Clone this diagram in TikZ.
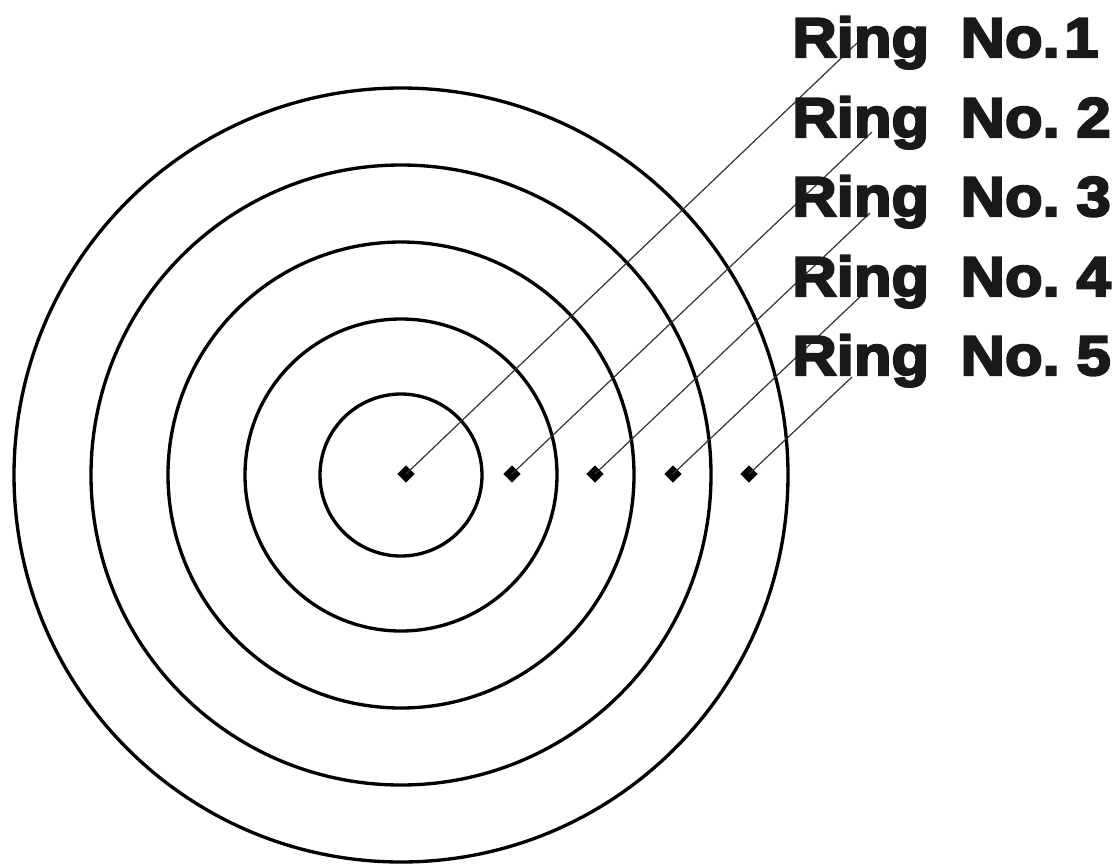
\documentclass[tikz,border=0pt]{standalone}
\usepackage{fontspec}
\newfontfamily\labfont[FakeBold=4,FakeStretch=1.1]{Liberation Sans Bold}
\usetikzlibrary{shapes.geometric}
\begin{document}
\begin{tikzpicture}[x=0.75pt,y=-0.75pt,
  ring/.style={draw=black,line width=2.5pt},
  leader/.style={draw=black!80,line width=0.9pt},
  dmark/.style={shape=diamond,fill=black,inner sep=0pt,minimum size=13pt},
  lab/.style={anchor=base west,inner sep=0pt,font=\labfont\fontsize{42}{42}\selectfont,text=black!90}]
\useasboundingbox (0,0) rectangle (1118,865);
\coordinate (c) at (401,475);
\foreach \r in {81,156,233,310,387}{\draw[ring] (c) circle[radius=\r];}
% leader end points
\coordinate (e1) at (857,43);
\coordinate (e2) at (872,132);
\coordinate (e3) at (870,213);
\coordinate (e4) at (862,295);
\coordinate (e5) at (852,377);
% diamond markers
\node[dmark] (d1) at (406,474) {};
\node[dmark] (d2) at (512,474) {};
\node[dmark] (d3) at (595,474) {};
\node[dmark] (d4) at (673,474) {};
\node[dmark] (d5) at (749,474) {};
\foreach \i in {1,...,5}{\draw[leader] (d\i.center) -- (e\i);}
\node[lab] (l1) at (792,57) {Ring\hspace{0.56em}No.\hspace{0.08em}1};
\node[lab] (l2) at (792,137) {Ring\hspace{0.56em}No.\hspace{0.3em}2};
\node[lab] (l3) at (792,216) {Ring\hspace{0.56em}No.\hspace{0.3em}3};
\node[lab] (l4) at (792,296) {Ring\hspace{0.56em}No.\hspace{0.3em}4};
\node[lab] (l5) at (792,375) {Ring\hspace{0.56em}No.\hspace{0.3em}5};
\end{tikzpicture}
\end{document}
